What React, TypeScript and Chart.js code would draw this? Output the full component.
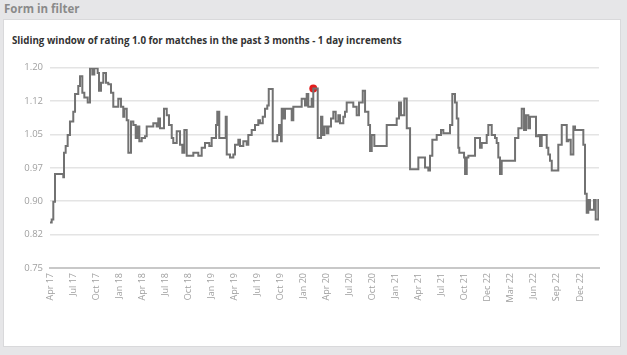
import { useEffect, useRef } from "react";
import { Chart, registerables } from "chart.js";

Chart.register(...registerables);

// months elapsed since 1 Apr 2017
const monthOffsets = [
  0, 0.22, 0.43, 0.65, 1.73, 1.82, 2.04, 2.3, 2.6, 3.03, 3.26, 3.68, 3.91, 4.21, 4.47, 4.91,
  5.21, 5.51, 5.77, 6.21, 6.38, 6.64, 6.94, 7.29, 7.59, 7.94, 8.24, 8.89, 9.24, 9.54, 9.67,
  9.99, 10.2, 10.55, 10.85, 11.16, 11.42, 11.63, 11.94, 12.37, 12.59, 13.45, 13.89, 14.1,
  14.32, 14.84, 15.2, 15.49, 15.85, 16.05, 16.5, 16.93, 17.23, 17.49, 17.8, 18.66, 19.31,
  19.75, 20.18, 20.74, 21.05, 21.61, 21.78, 22.04, 22.88, 23.01, 23.44, 23.87, 24.09, 24.52,
  24.74, 25.17, 25.61, 25.82, 26.26, 26.69, 27.12, 27.34, 27.7, 27.99, 28.29, 28.48, 29.0,
  29.6, 29.82, 30.08, 30.17, 30.38, 30.6, 31.47, 31.68, 32.77, 33.2, 33.42, 33.63, 34.07,
  34.2, 34.28, 34.86, 35.29, 35.46, 35.72, 36.03, 36.24, 36.59, 36.89, 37.2, 37.54, 37.76,
  38.19, 38.41, 38.63, 39.49, 39.93, 40.23, 40.72, 41.02, 41.45, 41.67, 41.89, 42.23, 43.84,
  45.14, 45.44, 45.7, 46.13, 46.45, 46.88, 47.96, 48.83, 49.26, 49.48, 49.78, 50.35, 50.91,
  51.21, 52.08, 52.38, 52.73, 52.96, 53.16, 53.29, 53.91, 54.04, 54.26, 54.47, 55.34, 55.99,
  56.21, 56.86, 57.07, 57.51, 57.94, 58.16, 58.37, 58.59, 58.81, 60.55, 60.98, 61.42, 61.72,
  61.98, 62.28, 62.5, 63.28, 63.58, 63.8, 64.02, 64.67, 64.88, 65.1, 65.33, 66.18, 66.63,
  67.28, 67.49, 67.8, 68.14, 68.36, 69.44, 69.66, 69.88, 70.09, 70.31, 70.83, 71.05, 71.39,
  71.48,
];

const ratings = [
  0.852, 0.859, 0.899, 0.961, 0.954, 1.009, 1.024, 1.049, 1.079, 1.101, 1.141, 1.159, 1.181,
  1.144, 1.133, 1.122, 1.199, 1.185, 1.199, 1.188, 1.148, 1.166, 1.188, 1.166, 1.163, 1.144,
  1.112, 1.13, 1.112, 1.09, 1.108, 1.082, 1.009, 1.079, 1.071, 1.042, 1.068, 1.035, 1.042,
  1.046, 1.068, 1.075, 1.068, 1.086, 1.064, 1.108, 1.093, 1.071, 1.042, 1.031, 1.057, 1.027,
  1.009, 1.06, 1.002, 1.009, 1.002, 1.02, 1.031, 1.024, 1.042, 1.071, 1.101, 1.042, 1.09,
  1.005, 0.998, 1.005, 1.027, 1.038, 1.024, 1.035, 1.027, 1.049, 1.06, 1.071, 1.082, 1.075,
  1.09, 1.108, 1.115, 1.152, 1.035, 1.049, 1.071, 1.035, 1.108, 1.086, 1.108, 1.082, 1.112,
  1.13, 1.115, 1.141, 1.112, 1.13, 1.112, 1.153, 1.042, 1.09, 1.049, 1.068, 1.053, 1.068,
  1.086, 1.101, 1.079, 1.093, 1.075, 1.09, 1.101, 1.122, 1.112, 1.093, 1.122, 1.148, 1.101,
  1.071, 1.013, 1.049, 1.024, 1.071, 1.086, 1.122, 1.093, 1.131, 1.064, 0.972, 0.998, 0.976,
  0.969, 1.002, 1.038, 1.049, 1.06, 1.053, 1.071, 1.141, 1.122, 1.086, 1.02, 1.009, 0.998,
  0.961, 0.998, 1.002, 1.042, 1.02, 1.031, 1.049, 1.071, 1.049, 1.042, 1.031, 0.998, 0.961,
  0.991, 1.042, 1.064, 1.108, 1.06, 1.093, 1.064, 1.09, 1.046, 1.049, 1.024, 1.049, 1.02,
  1.005, 0.991, 0.969, 1.027, 1.071, 1.035, 1.038, 1.005, 1.068, 1.06, 1.027, 0.917, 0.874,
  0.903, 0.881, 0.903, 0.859, 0.903, 0.903,
];

const highlightMonths = [34.28];
const highlightRatings = [1.153];

const xTickMonths = [
  0, 3, 6, 9, 12, 15, 18, 21, 24, 27, 30, 33, 36, 39, 42, 45, 48, 51, 54, 57, 60, 63, 66, 69,
];
const xTickLabels = [
  "Apr 17", "Jul 17", "Oct 17", "Jan 18", "Apr 18", "Jul 18", "Oct 18", "Jan 19",
  "Apr 19", "Jul 19", "Oct 19", "Jan 20", "Apr 20", "Jul 20", "Oct 20", "Jan 21",
  "Apr 21", "Jul 21", "Oct 21", "Dec 22", "Mar 22", "Jun 22", "Sep 22", "Dec 22",
];
const yTickValues = [0.75, 0.825, 0.9, 0.975, 1.05, 1.125, 1.2];
const yTickLabels = ["0.75", "0.82", "0.90", "0.97", "1.05", "1.12", "1.20"];

const FONT = "'Open Sans', 'Liberation Sans', Arial, sans-serif";

export default function App() {
  const ref = useRef<HTMLCanvasElement>(null);

  useEffect(() => {
    if (!ref.current) return;
    const chart = new Chart(ref.current, {
      type: "line",
      data: {
        datasets: [
          {
            data: monthOffsets.map((m, i) => ({ x: m, y: ratings[i] })),
            stepped: true,
            borderColor: "#727272",
            borderWidth: 2,
            pointRadius: 0,
            fill: false,
          },
          {
            data: highlightMonths.map((m, i) => ({ x: m, y: highlightRatings[i] })),
            showLine: false,
            pointRadius: 4,
            pointBackgroundColor: "#e31c1c",
            pointBorderColor: "#e31c1c",
            pointBorderWidth: 0,
          },
        ],
      },
      options: {
        animation: false,
        responsive: false,
        maintainAspectRatio: false,
        plugins: { legend: { display: false }, tooltip: { enabled: false } },
        layout: { padding: { top: 8, right: 28, left: 0, bottom: 0 } },
        scales: {
          x: {
            type: "linear",
            min: 0,
            max: 71.48,
            afterBuildTicks: (s: any) => {
              s.ticks = xTickMonths.map((v) => ({ value: v }));
            },
            afterFit: (s: any) => {
              s.height = 87;
            },
            ticks: {
              autoSkip: false,
              maxRotation: 90,
              minRotation: 90,
              padding: 5,
              color: "#a0a0a0",
              font: { family: FONT, size: 9 },
              callback: (_v: any, i: number) => xTickLabels[i],
            },
            grid: { display: false, drawTicks: false },
            border: { display: true, color: "#c8c8c8", width: 2 },
          },
          y: {
            min: 0.75,
            max: 1.2,
            afterBuildTicks: (s: any) => {
              s.ticks = yTickValues.map((v) => ({ value: v }));
            },
            afterFit: (s: any) => {
              s.width = 50;
            },
            ticks: {
              padding: 7,
              color: "#a0a0a0",
              font: { family: FONT, size: 9.5 },
              callback: (_v: any, i: number) => yTickLabels[i],
            },
            grid: { color: "#e4e4e4", lineWidth: 1.5, drawTicks: false },
            border: { display: false },
          },
        },
      },
    });
    return () => chart.destroy();
  }, []);

  return (
    <div
      style={{
        position: "fixed",
        left: 0,
        top: 0,
        width: 627,
        height: 355,
        background: "#e6e6e8",
        overflow: "hidden",
        fontFamily: FONT,
      }}
    >
      <div
        style={{
          position: "absolute",
          left: 4,
          top: 0,
          fontSize: 11.5,
          fontWeight: 700,
          color: "#8a8a8a",
          lineHeight: "18px",
        }}
      >
        Form in filter
      </div>
      <div
        style={{
          position: "absolute",
          left: 3,
          top: 19,
          width: 618,
          height: 328,
          background: "#ffffff",
          border: "1px solid #d9d9db",
          boxSizing: "border-box",
        }}
      />
      <div
        style={{
          position: "absolute",
          left: 12,
          top: 33,
          fontSize: 9.75,
          fontWeight: 700,
          color: "#333333",
          lineHeight: "16px",
          whiteSpace: "nowrap",
        }}
      >
        Sliding window of rating 1.0 for matches in the past 3 months - 1 day increments
      </div>
      <canvas
        ref={ref}
        width={627}
        height={300}
        style={{ position: "absolute", left: 0, top: 55, width: 627, height: 300 }}
      />
    </div>
  );
}
